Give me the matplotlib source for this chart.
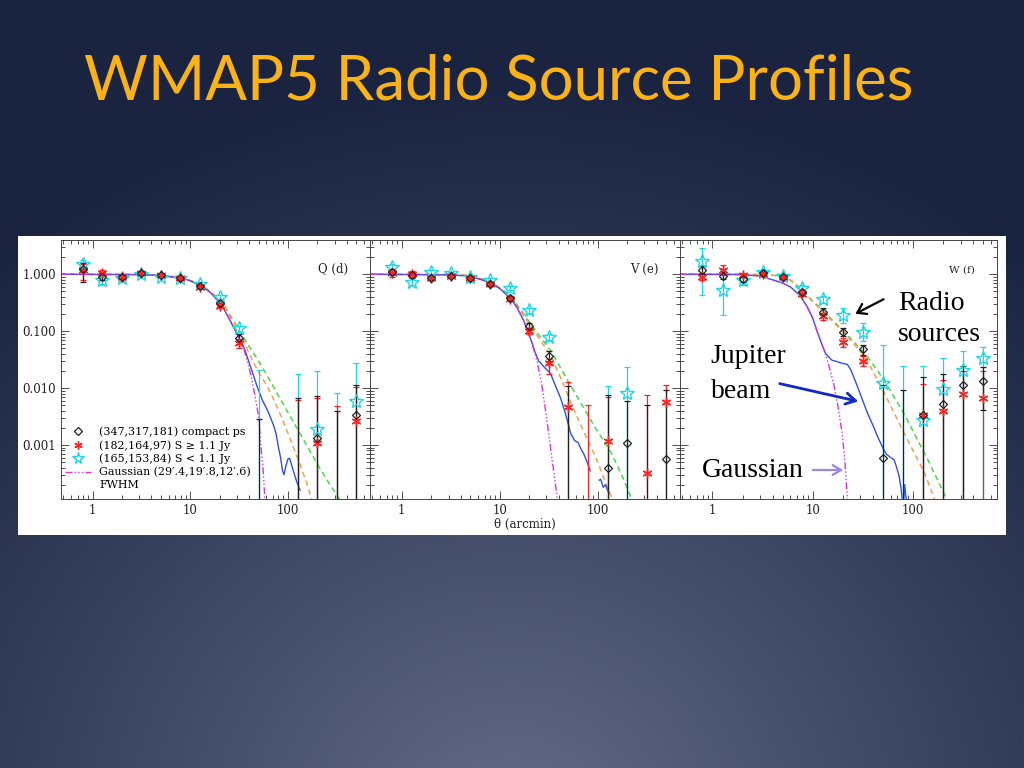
import numpy as np
import matplotlib
matplotlib.use("Agg")
import matplotlib.pyplot as plt
from matplotlib.lines import Line2D
from matplotlib.ticker import FixedLocator, FixedFormatter, LogLocator, NullFormatter

nan = np.nan

# bin centres (arcmin)
theta = [0.79, 1.26, 2.0, 3.16, 5.0, 7.9, 12.6, 20.0, 31.6, 50, 79, 126, 200, 316, 500]

# ---- Q band ----
q_ps = [1.22, 0.91, 0.89, 1.07, 0.97, 0.85, 0.62, 0.31, 0.077, nan, nan, nan, 0.0013, nan, 0.0034]
q_ps_hi = [1.56, 1.05, 0.97, 1.13, 1.02, 0.90, 0.66, 0.34, 0.088, 0.0028, nan, 0.0066, 0.0071, 0.0039, 0.0113]
q_ps_lo = [0.74, 0.78, 0.81, 1.01, 0.92, 0.80, 0.58, 0.28, 0.066, 0, nan, 0, 0, 0, 0]
q_br = [1.19, 1.04, 0.91, 1.07, 0.97, 0.85, 0.60, 0.28, 0.061, nan, nan, nan, 0.00107, nan, 0.0026]
q_br_hi = [1.5, 1.2, 0.98, 1.13, 1.02, 0.9, 0.64, 0.31, 0.072, nan, nan, 0.0062, 0.0066, 0.0048, 0.0105]
q_br_lo = [0.8, 0.88, 0.84, 1.0, 0.92, 0.8, 0.56, 0.25, 0.05, nan, nan, 0, 0, 0, 0]
q_fa = [1.5, 0.80, 0.85, 1.0, 0.91, 0.87, 0.67, 0.40, 0.112, nan, nan, nan, 0.0019, nan, 0.0058]
q_fa_hi = [1.8, 0.95, 0.93, 1.08, 0.97, 0.93, 0.72, 0.44, 0.125, 0.021, nan, 0.0175, 0.02, 0.0083, 0.028]
q_fa_lo = [1.2, 0.66, 0.77, 0.93, 0.85, 0.81, 0.62, 0.36, 0.098, 0, nan, 0, 0, 0, 0]

q_gauss_t = [0.47, 3, 5, 8.2, 10, 13, 16, 20.9, 25, 30, 33.6, 38.6, 42, 45.7, 50, 53, 55.5, 58]
q_gauss = [1.0, 0.985, 0.95, 0.85, 0.77, 0.62, 0.48, 0.29, 0.17, 0.095, 0.064, 0.029, 0.016, 0.0076,
           0.0032, 0.0009, 0.0004, 0.00011]
q_beam_t = [0.47, 3, 5, 8.2, 10, 13, 16, 20.9, 25, 30, 33.6, 36, 42, 48, 55, 62, 68, 72, 76, 80,
            84, 88, 91, 95, 100, 104, 110, 118, 126, 133]
q_beam = [1.0, 0.985, 0.95, 0.85, 0.77, 0.62, 0.48, 0.29, 0.165, 0.09, 0.062, 0.048, 0.022, 0.011,
          0.006, 0.004, 0.0027, 0.0021, 0.0015, 0.0009, 0.0006, 0.00035, 0.0003, 0.00042, 0.00057,
          0.00058, 0.00042, 0.00028, 0.0002, 0.00016]
q_orange_t = [0.47, 3, 5, 8.2, 13, 20.9, 33.6, 40, 50, 60, 70, 85, 100, 130, 155, 178]
q_orange = [1.0, 0.99, 0.96, 0.87, 0.65, 0.33, 0.083, 0.04, 0.019, 0.0115, 0.0068, 0.0032, 0.0016,
            0.0005, 0.00022, 0.0001]
q_green_t = [0.47, 3, 5, 8.2, 13, 20.9, 33.6, 40, 50, 70, 100, 150, 200, 260, 350]
q_green = [1.0, 0.99, 0.96, 0.87, 0.66, 0.34, 0.088, 0.054, 0.03, 0.011, 0.0037, 0.0011, 0.00046,
           0.00022, 0.0001]

# ---- V band ----
v_ps = [1.11, 0.97, 0.85, 0.95, 0.85, 0.67, 0.38, 0.125, 0.037, nan, nan, 0.0004, 0.00107, nan, 0.00056]
v_ps_hi = [1.25, 1.1, 0.92, 1.0, 0.9, 0.71, 0.41, 0.14, 0.044, 0.011, nan, 0.0075, 0.006, 0.005, 0.0093]
v_ps_lo = [0.98, 0.86, 0.79, 0.9, 0.8, 0.63, 0.35, 0.11, 0.03, 0, nan, 0, 0, 0, 0]
v_br = [1.04, 1.0, 0.87, 0.95, 0.85, 0.67, 0.37, 0.10, 0.027, 0.0047, nan, 0.00115, nan, 0.00032, 0.0056]
v_br_hi = [1.2, 1.12, 0.94, 1.0, 0.9, 0.71, 0.40, 0.115, 0.033, 0.013, 0.005, 0.007, nan, 0.0075, 0.0112]
v_br_lo = [0.88, 0.88, 0.8, 0.9, 0.8, 0.63, 0.34, 0.088, 0.018, 0, 0, 0, nan, 0, 0]
v_fa = [1.36, 0.74, 1.11, 1.04, 0.91, 0.8, 0.57, 0.236, 0.08, nan, nan, nan, 0.0081, nan, nan]
v_fa_hi = [1.5, 0.85, 1.2, 1.1, 0.97, 0.85, 0.62, 0.26, 0.09, nan, nan, 0.011, 0.023, nan, nan]
v_fa_lo = [1.2, 0.64, 1.0, 0.98, 0.85, 0.75, 0.52, 0.21, 0.07, nan, nan, 0, 0, nan, nan]

v_gauss_t = [0.47, 3, 5, 8.2, 10, 13, 15, 17.5, 19.5, 21.4, 24, 27, 30.5, 34, 36.5, 39]
v_gauss = [1.0, 0.975, 0.93, 0.7, 0.56, 0.37, 0.26, 0.155, 0.095, 0.06, 0.03, 0.011, 0.0025, 0.0006,
           0.00025, 0.0001]
v_beam_t = [0.47, 3, 5, 8.2, 10, 13, 15, 17.5, 19.5, 21.4, 23, 25, 28, 33, 37, 42, 47, 53, 58, 63,
            67.5, 72, 78, 84]
v_beam = [1.0, 0.975, 0.93, 0.7, 0.56, 0.37, 0.26, 0.155, 0.095, 0.062, 0.042, 0.03, 0.024, 0.018,
          0.011, 0.0065, 0.0035, 0.0016, 0.0012, 0.0011, 0.00085, 0.0007, 0.0005, 0.00035]
v_beam2_t = [104, 107, 114, 120, 130]
v_beam2 = [0.00024, 0.00025, 0.00018, 0.0002, 0.00014]
v_orange_t = [0.47, 3, 5, 8.2, 13, 20.9, 33.6, 42, 53, 70, 85, 100, 120, 145]
v_orange = [1.0, 0.99, 0.95, 0.72, 0.40, 0.12, 0.036, 0.015, 0.0056, 0.0019, 0.00093, 0.0005,
            0.00022, 0.0001]
v_green_t = [0.47, 3, 5, 8.2, 13, 20.9, 33.6, 45, 61.6, 90, 138, 180, 229]
v_green = [1.0, 0.99, 0.95, 0.73, 0.42, 0.13, 0.044, 0.018, 0.0071, 0.0023, 0.00072, 0.00027, 0.0001]

# ---- W band ----
w_ps = [1.19, 0.95, 0.82, 1.04, 0.88, 0.48, 0.22, 0.098, 0.048, 0.0006, nan, 0.0034, 0.0052, 0.0114, 0.0135]
w_ps_hi = [1.4, 1.1, 0.92, 1.12, 0.95, 0.52, 0.25, 0.115, 0.058, 0.0113, 0.0093, 0.0159, 0.0177, 0.0245, 0.023]
w_ps_lo = [1.0, 0.82, 0.72, 0.96, 0.81, 0.44, 0.19, 0.083, 0.038, 0, 0, 0, 0, 0, 0.0041]
w_br = [0.91, 1.19, 0.97, 1.0, 0.88, 0.45, 0.185, 0.064, 0.030, nan, nan, 0.0034, 0.0039, 0.0077, 0.0066]
w_br_hi = [1.05, 1.45, 1.05, 1.08, 0.95, 0.49, 0.21, 0.075, 0.036, nan, nan, 0.012, 0.014, 0.02, 0.02]
w_br_lo = [0.78, 0.98, 0.89, 0.93, 0.81, 0.41, 0.16, 0.053, 0.024, nan, nan, 0, 0, 0, 0]
w_fa = [1.71, 0.53, 0.8, 1.09, 0.95, 0.58, 0.365, 0.19, 0.098, 0.0124, nan, 0.0027, 0.0096, 0.021, 0.034]
w_fa_hi = [2.9, 1.19, 0.95, 1.2, 1.03, 0.65, 0.42, 0.26, 0.14, 0.057, 0.0245, 0.024, 0.034, 0.044, 0.053]
w_fa_lo = [0.43, 0.19, 0.66, 1.0, 0.87, 0.51, 0.31, 0.14, 0.068, 0, 0, 0, 0, 0, 0]

w_gauss_t = [0.47, 1.9, 3, 4.07, 5, 6, 7.5, 8.8, 10, 11.1, 12.3, 13.5, 14.8, 16.3, 18, 19.8, 21, 22.2]
w_gauss = [1.0, 0.99, 0.93, 0.79, 0.7, 0.6, 0.42, 0.27, 0.17, 0.098, 0.06, 0.038, 0.022, 0.0113,
           0.0045, 0.0015, 0.0005, 0.00011]
w_beam_t = [0.47, 1.9, 3, 4.07, 5, 6, 7.5, 8.8, 10, 11.1, 12.3, 13.5, 15.5, 17.6, 20, 22.2, 24,
            25.9, 28, 31.4, 35.3, 40, 44.5, 50, 54, 60, 65, 69, 73, 76, 79]
w_beam = [1.0, 0.99, 0.93, 0.79, 0.7, 0.6, 0.42, 0.27, 0.17, 0.098, 0.06, 0.04, 0.031, 0.029, 0.027,
          0.026, 0.021, 0.015, 0.0106, 0.0062, 0.0036, 0.0022, 0.0014, 0.0009, 0.0007, 0.0006,
          0.00055, 0.0004, 0.00028, 0.00018, 0.0001]
w_beam2_t = [81, 83, 85, 87]
w_beam2 = [0.0001, 0.0002, 0.00013, 0.0001]
w_orange_t = [0.47, 3, 5.1, 6.5, 8.2, 10, 13, 20.9, 33.6, 52, 82, 131, 165]
w_orange = [1.0, 0.99, 0.93, 0.72, 0.48, 0.33, 0.21, 0.09, 0.035, 0.0081, 0.0016, 0.00032, 0.00011]
w_green_t = [0.47, 3, 5.1, 6.5, 8.2, 10, 13, 20.9, 33.6, 50, 82, 141, 225]
w_green = [1.0, 0.99, 0.93, 0.72, 0.48, 0.34, 0.22, 0.095, 0.04, 0.015, 0.0035, 0.00055, 0.0001]

panel_names = ["Q (d)", "V (e)", "W (f)"]
legend_labels = ["(347,317,181) compact ps", "(182,164,97) S \u2265 1.1 Jy",
                 "(165,153,84) S < 1.1 Jy", "Gaussian (29\u2032.4,19\u2032.8,12\u2032.6)", "FWHM"]

BLACK = "#222222"
RED = "#ff2020"
CYAN = "#1fd6e6"
MAGENTA = "#e030e0"
BLUE = "#3050e0"
ORANGE = "#f0a050"
GREEN = "#4ad84a"
DASHDOT = (0, (5, 1.6, 1, 1.6, 1, 1.6, 1, 1.6))

W_PX, H_PX = 1024, 768


def fx(px):
    return px / W_PX


def fy(py):
    return 1 - py / H_PX


fig = plt.figure(figsize=(10.24, 7.68), dpi=100)

# slide background
bg = fig.add_axes([0, 0, 1, 1], zorder=-10)
yy, xx = np.mgrid[0:H_PX, 0:W_PX]
d = np.sqrt(((xx - 512) / 820.0) ** 2 + ((yy - 830) / 760.0) ** 2)
f = np.clip(1 - d, 0, 1) ** 1.1
dark = np.array([26, 36, 64]) / 255.0
light = np.array([100, 108, 136]) / 255.0
img = dark[None, None, :] + (light - dark)[None, None, :] * f[:, :, None]
bg.imshow(img, extent=[0, 1, 0, 1], aspect="auto", origin="upper")
bg.axis("off")

# white panel holding the figure
fig.patches.append(plt.Rectangle((fx(18), fy(535)), fx(1006) - fx(18), fy(236) - fy(535),
                                 transform=fig.transFigure, facecolor="white", edgecolor="none",
                                 zorder=-5))

fig.text(fx(84), fy(100), "WMAP5 Radio Source Profiles", color="#fbb216",
         fontsize=44.5, family="Lato", weight="normal", ha="left", va="baseline")

edges = [61, 370, 680, 997]
axes = []
for i in range(3):
    ax = fig.add_axes([fx(edges[i]), fy(499), fx(edges[i + 1]) - fx(edges[i]), fy(240) - fy(499)])
    axes.append(ax)


def draw_bars(ax, x, lo, hi, color, z):
    for xi, l, h in zip(x, lo, hi):
        if np.isnan(h):
            continue
        bottom = l if l > 0 else 1e-7
        ax.vlines(xi, bottom, h, color=color, lw=0.9, zorder=z)
        ax.plot([xi], [h], marker="_", ms=4, mew=0.9, color=color, zorder=z)
        if l > 0:
            ax.plot([xi], [l], marker="_", ms=4, mew=0.9, color=color, zorder=z)


panels = [
    (q_ps, q_ps_lo, q_ps_hi, q_br, q_br_lo, q_br_hi, q_fa, q_fa_lo, q_fa_hi,
     q_gauss_t, q_gauss, [(q_beam_t, q_beam)], q_orange_t, q_orange, q_green_t, q_green),
    (v_ps, v_ps_lo, v_ps_hi, v_br, v_br_lo, v_br_hi, v_fa, v_fa_lo, v_fa_hi,
     v_gauss_t, v_gauss, [(v_beam_t, v_beam), (v_beam2_t, v_beam2)], v_orange_t, v_orange,
     v_green_t, v_green),
    (w_ps, w_ps_lo, w_ps_hi, w_br, w_br_lo, w_br_hi, w_fa, w_fa_lo, w_fa_hi,
     w_gauss_t, w_gauss, [(w_beam_t, w_beam), (w_beam2_t, w_beam2)], w_orange_t, w_orange,
     w_green_t, w_green),
]

for i, (ax, p) in enumerate(zip(axes, panels)):
    (ps, ps_lo, ps_hi, br, br_lo, br_hi, fa, fa_lo, fa_hi,
     gt, g, beams, ot, o, gr_t, gr) = p
    ax.set_xscale("log")
    ax.set_yscale("log")

    ax.plot(gr_t, gr, color=GREEN, ls=(0, (3.5, 2.5)), lw=1.1, zorder=2)
    ax.plot(ot, o, color=ORANGE, ls=(0, (3.5, 2.5)), lw=1.1, zorder=2)
    for bt, b in beams:
        ax.plot(bt, b, color=BLUE, lw=1.0, zorder=2)
    ax.plot(gt, g, color=MAGENTA, ls=DASHDOT, lw=1.0, zorder=2)

    draw_bars(ax, theta, fa_lo, fa_hi, CYAN, 3)
    draw_bars(ax, theta, br_lo, br_hi, RED, 4)
    draw_bars(ax, theta, ps_lo, ps_hi, BLACK, 5)
    ax.plot(theta, fa, ls="none", marker="*", ms=10, mfc="none", mec=CYAN, mew=1.0, zorder=6)
    ax.plot(theta, br, ls="none", marker=(6, 2, 0), ms=7, color=RED, mew=1.0, zorder=7)
    ax.plot(theta, ps, ls="none", marker="D", ms=4.5, mfc="none", mec=BLACK, mew=0.9, zorder=8)

    ax.set_xlim(0.474, 692)
    ax.set_ylim(1.12e-4, 4.0)

    ax.xaxis.set_major_locator(FixedLocator([1, 10, 100]))
    ax.xaxis.set_major_formatter(FixedFormatter(["1", "10", "100"]))
    ax.xaxis.set_minor_locator(LogLocator(base=10, subs=np.arange(2, 10)))
    ax.xaxis.set_minor_formatter(NullFormatter())
    ax.yaxis.set_major_locator(FixedLocator([1e-3, 1e-2, 1e-1, 1]))
    ax.yaxis.set_minor_locator(LogLocator(base=10, subs=np.arange(2, 10)))
    ax.yaxis.set_minor_formatter(NullFormatter())
    if i == 0:
        ax.yaxis.set_major_formatter(FixedFormatter(["0.001", "0.010", "0.100", "1.000"]))
    else:
        ax.yaxis.set_major_formatter(NullFormatter())
    ax.tick_params(which="both", direction="in", top=True, right=True, colors="#333333",
                   labelcolor="#222222", labelsize=8.5, width=0.6)
    ax.tick_params(which="major", length=6)
    ax.tick_params(which="minor", length=3)
    for lab in ax.get_xticklabels() + ax.get_yticklabels():
        lab.set_family("DejaVu Serif")
    for s in ax.spines.values():
        s.set_linewidth(0.7)
        s.set_color("#444444")
    ax.text(0.93, 0.885, panel_names[i], transform=ax.transAxes, ha="right", va="center",
            fontsize=8.5 if i < 2 else 7.5, family="DejaVu Serif", color="#222222")

axes[1].set_xlabel("\u03b8 (arcmin)", family="DejaVu Serif", fontsize=8.5, color="#222222",
                   labelpad=1)

handles = [
    Line2D([], [], ls="none", marker="D", ms=4, mfc="none", mec=BLACK, mew=0.9),
    Line2D([], [], ls="none", marker=(6, 2, 0), ms=6, color=RED, mew=1.0),
    Line2D([], [], ls="none", marker="*", ms=8.5, mfc="none", mec=CYAN, mew=1.0),
    Line2D([], [], color=MAGENTA, ls=DASHDOT, lw=1.0),
    Line2D([], [], ls="none"),
]
axes[0].legend(handles, legend_labels, loc="lower left", frameon=False,
               bbox_to_anchor=(-0.005, 0.012),
               prop={"family": "DejaVu Serif", "size": 7.9}, handlelength=2.4,
               handletextpad=0.7, labelspacing=0.27, borderaxespad=0.0, borderpad=0.5)

# annotations on the W panel
fig.text(fx(898), fy(310), "Radio", fontsize=20, family="Liberation Serif", color="black",
         va="baseline")
fig.text(fx(898), fy(341), "sources", fontsize=20, family="Liberation Serif", color="black",
         va="baseline")
fig.text(fx(710), fy(363), "Jupiter", fontsize=20, family="Liberation Serif", color="black",
         va="baseline")
fig.text(fx(711), fy(398), "beam", fontsize=20, family="Liberation Serif", color="black",
         va="baseline")
fig.text(fx(702), fy(477), "Gaussian", fontsize=20, family="Liberation Serif", color="black",
         va="baseline")

fig.add_artist(matplotlib.patches.FancyArrowPatch(
    (fx(886), fy(298)), (fx(853), fy(315)), transform=fig.transFigure,
    arrowstyle="->,head_length=6,head_width=4", color="black", lw=1.6))
fig.add_artist(matplotlib.patches.FancyArrowPatch(
    (fx(777), fy(383)), (fx(861), fy(402)), transform=fig.transFigure,
    arrowstyle="->,head_length=7,head_width=4", color="#1428c8", lw=2.0))
fig.add_artist(matplotlib.patches.FancyArrowPatch(
    (fx(810), fy(470)), (fx(846), fy(470)), transform=fig.transFigure,
    arrowstyle="->,head_length=6,head_width=3.5", color="#9a86ea", lw=1.6))

fig.savefig("out.png", dpi=100)
